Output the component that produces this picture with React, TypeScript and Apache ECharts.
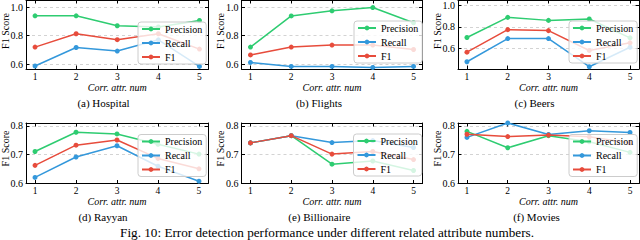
import React, { useEffect, useRef } from "react";
import * as echarts from "echarts";

const attrNums = [1, 2, 3, 4, 5];
const seriesNames = ["Precision", "Recall", "F1"];
const seriesColors = ["#2ecc71", "#3498db", "#e74c3c"];

const hospitalPrecision = [0.939, 0.939, 0.869, 0.86, 0.906];
const hospitalRecall = [0.586, 0.716, 0.691, 0.77, 0.583];
const hospitalF1 = [0.719, 0.813, 0.771, 0.813, 0.705];

const flightsPrecision = [0.719, 0.938, 0.974, 0.997, 0.89];
const flightsRecall = [0.611, 0.583, 0.583, 0.576, 0.583];
const flightsF1 = [0.664, 0.719, 0.733, 0.733, 0.702];

const beersPrecision = [0.702, 0.889, 0.861, 0.874, 0.699];
const beersRecall = [0.477, 0.692, 0.692, 0.431, 0.612];
const beersF1 = [0.566, 0.775, 0.766, 0.582, 0.653];

const rayyanPrecision = [0.711, 0.778, 0.772, 0.736, 0.702];
const rayyanRecall = [0.621, 0.692, 0.731, 0.66, 0.608];
const rayyanF1 = [0.663, 0.733, 0.751, 0.687, 0.651];

const billionairePrecision = [0.741, 0.766, 0.667, 0.678, 0.645];
const billionaireRecall = [0.741, 0.766, 0.742, 0.749, 0.725];
const billionaireF1 = [0.741, 0.766, 0.702, 0.711, 0.683];

const moviesPrecision = [0.781, 0.724, 0.766, 0.745, 0.708];
const moviesRecall = [0.76, 0.81, 0.77, 0.783, 0.777];
const moviesF1 = [0.771, 0.763, 0.768, 0.762, 0.741];

const yTicksRow1 = [0.6, 0.8, 1.0];
const yTicksRow2 = [0.6, 0.7, 0.8];

const subCaptions = ["(a) Hospital", "(b) Flights", "(c) Beers", "(d) Rayyan", "(e) Billionaire", "(f) Movies"];
const xAxisTitle = "Corr. attr. num";
const yAxisTitle = "F1 Score";
const figCaption = "Fig. 10: Error detection performance under different related attribute numbers.";

const SERIF = "Liberation Serif";

const panels = [
  { left: 26, top: 0, width: 182.5, height: 69, yMin: 0.565, yMax: 1.05, yTicks: yTicksRow1, data: [hospitalPrecision, hospitalRecall, hospitalF1], capX: 103.5, legendLeft: 138, legendTop: 22 },
  { left: 241.5, top: 0, width: 181, height: 69, yMin: 0.565, yMax: 1.05, yTicks: yTicksRow1, data: [flightsPrecision, flightsRecall, flightsF1], capX: 319, legendLeft: 354, legendTop: 21 },
  { left: 458, top: 0, width: 181, height: 69, yMin: 0.41, yMax: 1.05, yTicks: yTicksRow1, data: [beersPrecision, beersRecall, beersF1], capX: 534.5, legendLeft: 569, legendTop: 21 },
  { left: 26, top: 123, width: 182, height: 60.5, yMin: 0.6, yMax: 0.81, yTicks: yTicksRow2, data: [rayyanPrecision, rayyanRecall, rayyanF1], capX: 103, legendLeft: 138, legendTop: 134.5 },
  { left: 241.5, top: 123, width: 181, height: 60.5, yMin: 0.6, yMax: 0.81, yTicks: yTicksRow2, data: [billionairePrecision, billionaireRecall, billionaireF1], capX: 319.3, legendLeft: 353.5, legendTop: 134 },
  { left: 458, top: 123, width: 181, height: 60.5, yMin: 0.6, yMax: 0.81, yTicks: yTicksRow2, data: [moviesPrecision, moviesRecall, moviesF1], capX: 536.5, legendLeft: 569, legendTop: 134.5 },
];

function buildOption() {
  const grid: any[] = [];
  const xAxis: any[] = [];
  const yAxis: any[] = [];
  const series: any[] = [];
  const legend: any[] = [];
  const graphic: any[] = [];

  const axisLine = { show: true, onZero: false, lineStyle: { color: "#000", width: 1 } };
  const tickStyle = { color: "#000", width: 1 };

  panels.forEach((p, i) => {
    grid.push({ left: p.left, top: p.top, width: p.width, height: p.height, show: false });
    xAxis.push({
      gridIndex: i, type: "value", min: 0.78, max: 5.22, position: "bottom",
      axisLine, splitLine: { show: false },
      axisTick: { show: true, inside: true, length: 3.5, customValues: attrNums, lineStyle: tickStyle },
      axisLabel: { show: true, customValues: attrNums, margin: 2.5, fontFamily: SERIF, fontSize: 9.5, color: "#000" },
    });
    xAxis.push({
      gridIndex: i, type: "value", min: 0.78, max: 5.22, position: "top",
      axisLine, splitLine: { show: false },
      axisTick: { show: true, inside: true, length: 3.5, customValues: attrNums, lineStyle: tickStyle },
      axisLabel: { show: false },
    });
    yAxis.push({
      gridIndex: i, type: "value", min: p.yMin, max: p.yMax, position: "left",
      axisLine,
      splitLine: { show: true, lineStyle: { color: "#c8c8c8", width: 0.8, type: [3, 3] } },
      axisTick: { show: true, inside: true, length: 3.5, customValues: p.yTicks, lineStyle: tickStyle },
      axisLabel: { show: true, customValues: p.yTicks, margin: 3, fontFamily: SERIF, fontSize: 10, color: "#000", formatter: (v: number) => v.toFixed(1) },
    });
    yAxis.push({
      gridIndex: i, type: "value", min: p.yMin, max: p.yMax, position: "right",
      axisLine, splitLine: { show: false },
      axisTick: { show: true, inside: true, length: 3.5, customValues: p.yTicks, lineStyle: tickStyle },
      axisLabel: { show: false },
    });
    p.data.forEach((vals, k) => {
      series.push({
        type: "line",
        name: seriesNames[k],
        xAxisIndex: 2 * i,
        yAxisIndex: 2 * i,
        data: attrNums.map((x, j) => [x, vals[j]]),
        symbol: "circle",
        symbolSize: 5,
        showSymbol: true,
        lineStyle: { width: 1.5, color: seriesColors[k] },
        itemStyle: { color: seriesColors[k] },
        z: 2 + k * 0.1,
      });
    });
    legend.push({
      data: seriesNames,
      orient: "vertical",
      left: p.legendLeft,
      top: p.legendTop,
      itemWidth: 18,
      itemHeight: 6,
      itemGap: 3,
      padding: [1.5, 4, 1.5, 3],
      backgroundColor: "rgba(255,255,255,0.8)",
      borderColor: "#cccccc",
      borderWidth: 1,
      borderRadius: 3,
      selectedMode: false,
      textStyle: { fontFamily: SERIF, fontSize: 10, color: "#000", lineHeight: 11 },
    });
    const row1 = i < 3;
    graphic.push({
      type: "text", x: p.left - 21, y: row1 ? 31 : 148.5, rotation: Math.PI / 2,
      style: { text: yAxisTitle, fontFamily: SERIF, fontSize: 10, textAlign: "center", textVerticalAlign: "middle", fill: "#000" },
    });
    graphic.push({
      type: "text", x: p.left + p.width / 2, y: row1 ? 87.5 : 201.5,
      style: { text: xAxisTitle, fontFamily: SERIF, fontStyle: "italic", fontSize: 10, textAlign: "center", textVerticalAlign: "middle", fill: "#000" },
    });
    graphic.push({
      type: "text", x: p.capX, y: row1 ? 103.3 : 217,
      style: { text: subCaptions[i], fontFamily: SERIF, fontSize: 11, textAlign: "center", textVerticalAlign: "middle", fill: "#000" },
    });
  });

  graphic.push({
    type: "text", x: 327, y: 232.8,
    style: { text: figCaption, fontFamily: SERIF, fontSize: 13.2, textAlign: "center", textVerticalAlign: "middle", fill: "#000" },
  });

  return {
    animation: false,
    backgroundColor: "#ffffff",
    grid, xAxis, yAxis, series, legend, graphic,
  };
}

export default function App() {
  const ref = useRef<HTMLDivElement>(null);
  useEffect(() => {
    if (!ref.current) return;
    const chart = echarts.init(ref.current, undefined, { renderer: "svg" });
    chart.setOption(buildOption() as any);
    return () => chart.dispose();
  }, []);
  return (
    <div
      ref={ref}
      style={{ position: "absolute", left: 0, top: 0, width: 640, height: 240, background: "#fff" }}
    />
  );
}
